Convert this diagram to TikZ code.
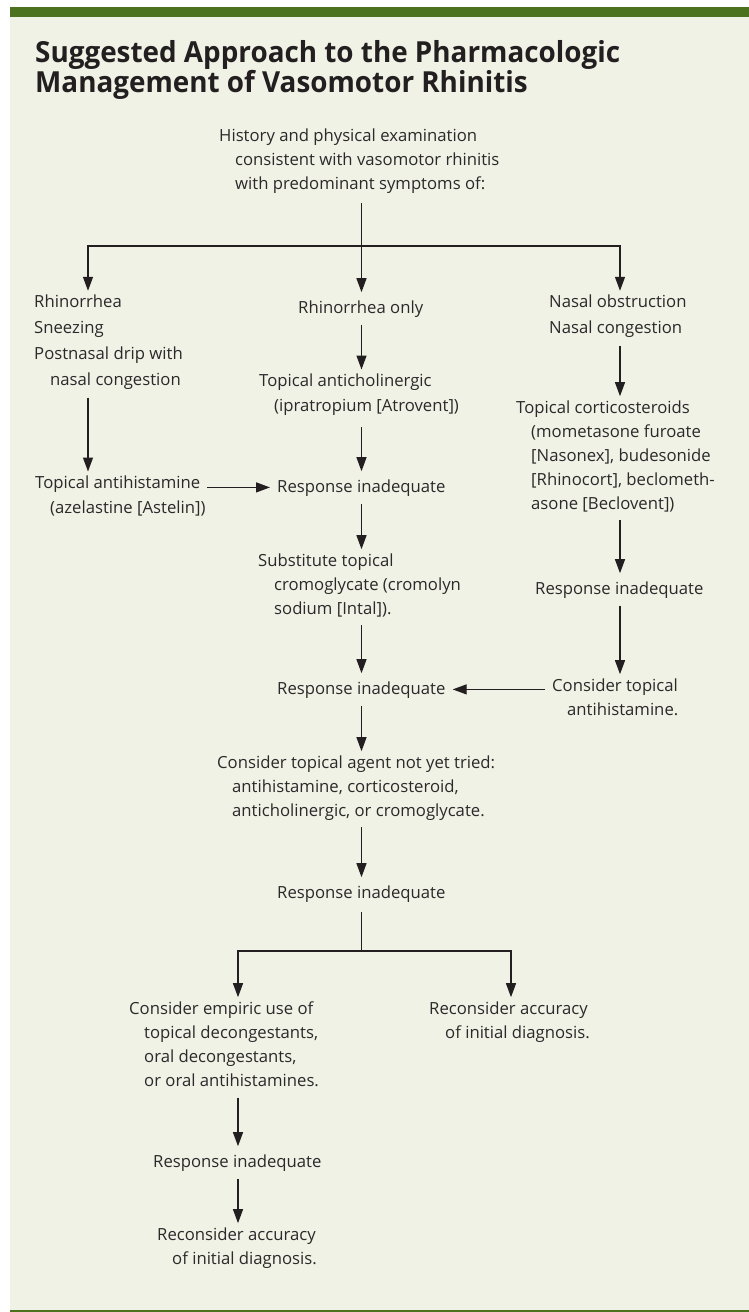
\documentclass[tikz,border=0pt]{standalone}
\usepackage{fontspec}
\setmainfont{Open Sans}
\newfontfamily\titlefont[FakeStretch=0.96]{Open Sans}
\usetikzlibrary{arrows.meta}
\definecolor{panel}{HTML}{F1F2E6}
\definecolor{barg}{HTML}{4D721F}
\definecolor{ink}{HTML}{2B292A}
\definecolor{lineink}{HTML}{231F20}
\tikzset{
  txt/.style={font=\fontsize{16.7}{24}\selectfont, text=ink, align=left, anchor=north west,
    inner xsep=7pt, inner ysep=4pt, execute at begin node=\strut, execute at end node=\strut},
  lsa/.style={font=\fontsize{16.7}{25}\selectfont},
  lsb/.style={font=\fontsize{16.7}{26}\selectfont},
  ttl/.style={font=\titlefont\bfseries\fontsize{29}{28}\selectfont, text=lineink, align=left,
    anchor=north west, inner sep=0pt, execute at begin node=\strut},
  arr/.style={draw=lineink, line width=1.3pt, -{Triangle[length=14pt,width=10pt]}},
  ln/.style={draw=lineink, line width=1.3pt},
}
\begin{document}
\begin{tikzpicture}[x=1pt,y=-1pt]
\useasboundingbox (0,0) rectangle (749,1312);
\fill[white] (0,0) rectangle (749,1312);
\fill[panel] (10,17) rectangle (749,1310);
\fill[barg] (10,7) rectangle (749,17);
\fill[barg] (10,1309.5) rectangle (749,1312);

\node[ttl] (title) at (35,40) {Suggested Approach to the Pharmacologic\\Management of Vasomotor Rhinitis};

\coordinate (colA) at (88,0);
\coordinate (colB) at (361.5,0);
\coordinate (colC) at (620,0);
\coordinate (colD) at (238,0);
\coordinate (colE) at (511,0);
\coordinate (bar1) at (0,246);
\coordinate (bar2) at (0,951);

\node[txt] (top) at (212,124.2) {History and physical examination\\\hspace*{16pt}consistent with vasomotor rhinitis\\\hspace*{16pt}with predominant symptoms of:};

\node[txt,lsb] (L1) at (27,290.8) {Rhinorrhea\\Sneezing\\Postnasal drip with\\\hspace*{16pt}nasal congestion};
\node[txt] (M1) at (291,292.2) {Rhinorrhea only};
\node[txt,lsb] (R1) at (542,290.8) {Nasal obstruction\\Nasal congestion};

\node[txt,lsa] (L2) at (28,471.5) {Topical antihistamine\\\hspace*{15pt}(azelastine [Astelin])};
\node[txt,lsa] (M2) at (252,369.5) {Topical anticholinergic\\\hspace*{15pt}(ipratropium [Atrovent])};
\node[txt] (M3) at (270,471.2) {Response inadequate};
\node[txt] (M4) at (251,549.2) {Substitute topical\\\hspace*{16pt}cromoglycate (cromolyn\\\hspace*{16pt}sodium [Intal]).};
\node[txt] (M5) at (270,673.2) {Response inadequate};

\node[txt] (R2) at (509,396.2) {Topical corticosteroids\\\hspace*{15pt}(mometasone furoate\\\hspace*{15pt}[Nasonex], budesonide\\\hspace*{15pt}[Rhinocort], beclometh-\\\hspace*{15pt}asone [Beclovent])};
\node[txt] (R3) at (528,573.2) {Response inadequate};
\node[txt] (R4) at (545,674.2) {Consider topical\\\hspace*{15pt}antihistamine.};

\node[txt] (M6) at (210,751.2) {Consider topical agent not yet tried:\\\hspace*{15pt}antihistamine, corticosteroid,\\\hspace*{15pt}anticholinergic, or cromoglycate.};
\node[txt] (M7) at (270,877.2) {Response inadequate};

\node[txt] (B1) at (122,997.2) {Consider empiric use of\\\hspace*{15pt}topical decongestants,\\\hspace*{15pt}oral decongestants,\\\hspace*{15pt}or oral antihistamines.};
\node[txt] (B2) at (422,997.2) {Reconsider accuracy\\\hspace*{16pt}of initial diagnosis.};
\node[txt] (B3) at (146,1146.2) {Response inadequate};
\node[txt] (B4) at (150,1223.2) {Reconsider accuracy\\\hspace*{15pt}of initial diagnosis.};

% top branching
\draw[arr] ([yshift=-3pt]top.south -| colB) -- (M1.north -| colB);
\draw[arr] (bar1 -| colB) -| (L1.north -| colA);
\draw[arr] (bar1 -| colB) -| (R1.north -| colC);

% left column
\draw[arr] (L1.south -| colA) -- (L2.north -| colA);
\draw[arr] ([xshift=-6pt]L2.east |- M3.west) -- (M3.west);

% middle column
\draw[arr] (M1.south -| colB) -- (M2.north -| colB);
\draw[arr] ([yshift=-4pt]M2.south -| colB) -- (M3.north -| colB);
\draw[arr] (M3.south -| colB) -- (M4.north -| colB);
\draw[arr] (M4.south -| colB) -- (M5.north -| colB);
\draw[arr] (M5.south -| colB) -- (M6.north -| colB);
\draw[arr] (M6.south -| colB) -- (M7.north -| colB);

% right column
\draw[arr] (R1.south -| colC) -- (R2.north -| colC);
\draw[arr] (R2.south -| colC) -- (R3.north -| colC);
\draw[arr] (R3.south -| colC) -- (R4.north -| colC);
\draw[arr] (R4.west |- M5.east) -- (M5.east);

% bottom branching
\draw[ln] ([yshift=-2pt]M7.south -| colB) -- (bar2 -| colB);
\draw[arr] (bar2 -| colB) -| (B1.north -| colD);
\draw[arr] (bar2 -| colB) -| (B2.north -| colE);
\draw[arr] (B1.south -| colD) -- (B3.north -| colD);
\draw[arr] (B3.south -| colD) -- (B4.north -| colD);
\end{tikzpicture}
\end{document}
